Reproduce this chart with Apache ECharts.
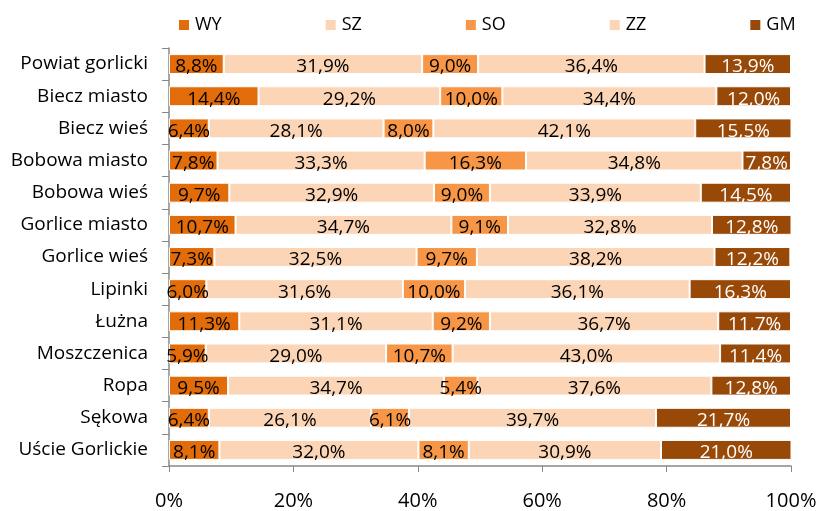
<!DOCTYPE html>
<html>
<head>
<meta charset="utf-8">
<script src="https://cdn.jsdelivr.net/npm/echarts@6/dist/echarts.min.js"></script>
<style>
  html, body { margin: 0; padding: 0; background: #fff; }
  #main { width: 817px; height: 511px; }
</style>
</head>
<body>
<div id="main"></div>
<script>
const categories = ['Powiat gorlicki', 'Biecz miasto', 'Biecz wieś', 'Bobowa miasto', 'Bobowa wieś',
  'Gorlice miasto', 'Gorlice wieś', 'Lipinki', 'Łużna', 'Moszczenica', 'Ropa', 'Sękowa', 'Uście Gorlickie'];

const wy = [8.8, 14.4, 6.4, 7.8, 9.7, 10.7, 7.3, 6.0, 11.3, 5.9, 9.5, 6.4, 8.1];
const sz = [31.9, 29.2, 28.1, 33.3, 32.9, 34.7, 32.5, 31.6, 31.1, 29.0, 34.7, 26.1, 32.0];
const so = [9.0, 10.0, 8.0, 16.3, 9.0, 9.1, 9.7, 10.0, 9.2, 10.7, 5.4, 6.1, 8.1];
const zz = [36.4, 34.4, 42.1, 34.8, 33.9, 32.8, 38.2, 36.1, 36.7, 43.0, 37.6, 39.7, 30.9];
const gm = [13.9, 12.0, 15.5, 7.8, 14.5, 12.8, 12.2, 16.3, 11.7, 11.4, 12.8, 21.7, 21.0];

const xTicks = [0, 20, 40, 60, 80, 100];

const FONT = 'Open Sans';

function pct(v) {
  return v.toFixed(1).replace('.', ',') + '%';
}

function makeSeries(name, data, color, labelColor) {
  return {
    name: name,
    type: 'bar',
    stack: 'total',
    data: data,
    barCategoryGap: '38%',
    itemStyle: { color: color, borderColor: '#fff', borderWidth: 1 },
    label: {
      show: true,
      position: 'inside',
      color: labelColor,
      fontFamily: FONT,
      fontSize: 19,
      offset: [0, 3],
      formatter: p => pct(p.value)
    }
  };
}

const myChart = echarts.init(document.getElementById('main'));
const option = {
  animation: false,
  textStyle: { fontFamily: FONT },
  legend: {
    top: 11,
    left: 172,
    itemWidth: 12,
    itemHeight: 12,
    itemGap: 102,
    icon: 'rect',
    textStyle: { fontSize: 18, color: '#000', fontFamily: FONT },
    data: ['WY', 'SZ', 'SO', 'ZZ', 'GM']
  },
  grid: { left: 169, right: 26, top: 48, bottom: 45, outerBoundsMode: 'none' },
  xAxis: {
    type: 'value',
    min: xTicks[0],
    max: xTicks[xTicks.length - 1],
    interval: 20,
    splitLine: { show: false },
    axisLine: { show: true, lineStyle: { color: '#888', width: 1.5 } },
    axisTick: { show: true, length: 6, lineStyle: { color: '#888' } },
    axisLabel: { color: '#000', fontSize: 20, margin: 25, formatter: v => v + '%' }
  },
  yAxis: {
    type: 'category',
    inverse: true,
    data: categories,
    axisLine: { show: true, lineStyle: { color: '#888', width: 1.5 } },
    axisTick: { show: true, length: 7, lineStyle: { color: '#888' } },
    axisLabel: { color: '#000', fontSize: 19, margin: 21 }
  },
  series: [
    makeSeries('WY', wy, '#E36C0A', '#000'),
    makeSeries('SZ', sz, '#FBD5B5', '#000'),
    makeSeries('SO', so, '#F79646', '#000'),
    makeSeries('ZZ', zz, '#FBD5B5', '#000'),
    makeSeries('GM', gm, '#984807', '#fff')
  ]
};
myChart.setOption(option);
</script>
</body>
</html>
